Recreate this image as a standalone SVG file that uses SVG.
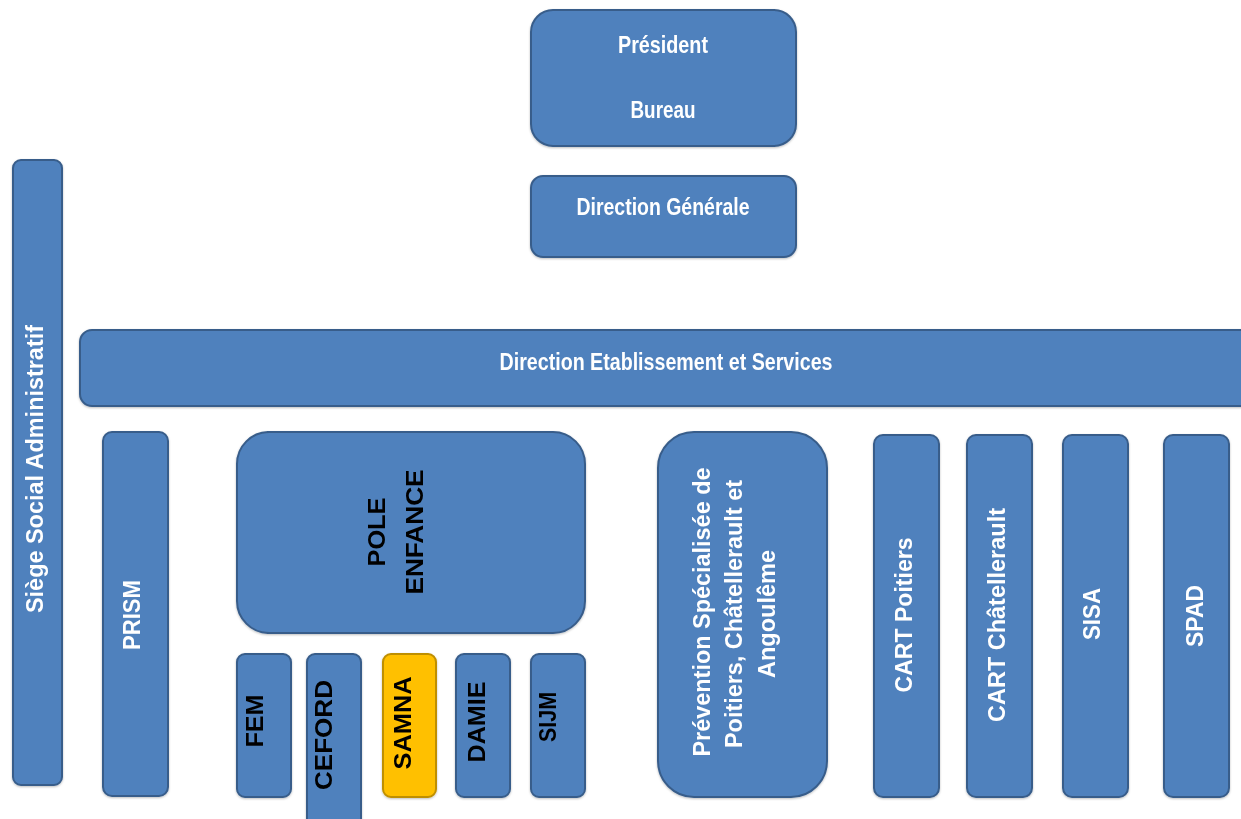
<svg xmlns="http://www.w3.org/2000/svg" width="1241" height="819" viewBox="0 0 1241 819">
<defs>
<style>
.b{fill:#4f81bd;stroke:#385d8a;stroke-width:2}
.y{fill:#ffc000;stroke:#bf8f00;stroke-width:2}
.n{font-family:"Liberation Sans Narrow","Liberation Sans",Arial,sans-serif;font-weight:bold;font-size:24px;fill:#ffffff;text-anchor:middle}
.w{font-family:"Liberation Sans",Arial,sans-serif;font-weight:bold;font-size:23px;fill:#ffffff;text-anchor:middle}
.k{font-family:"Liberation Sans",Arial,sans-serif;font-weight:bold;font-size:24px;fill:#000000;text-anchor:middle}
</style>
<filter id="sh" x="-10%" y="-10%" width="120%" height="120%">
<feDropShadow dx="0" dy="1" stdDeviation="1.2" flood-color="#000" flood-opacity="0.25"/>
</filter>
</defs>
<rect width="1241" height="819" fill="#ffffff"/>
<g id="connectors"></g>
<g filter="url(#sh)">
<g id="president">
<rect class="b" x="531" y="10" width="265" height="136" rx="22"/>
<text class="n" x="663" y="53" textLength="90" lengthAdjust="spacingAndGlyphs">Président</text>
<text class="n" x="663" y="118" textLength="65" lengthAdjust="spacingAndGlyphs">Bureau</text>
</g>
<g id="direction-generale">
<rect class="b" x="531" y="176" width="265" height="81" rx="12"/>
<text class="n" x="663" y="215" textLength="173" lengthAdjust="spacingAndGlyphs">Direction Générale</text>
</g>
<g id="siege">
<rect class="b" x="13" y="160" width="49" height="625" rx="8"/>
<text class="w" transform="translate(43,469) rotate(-90)" textLength="288" lengthAdjust="spacingAndGlyphs">Siège Social Administratif</text>
</g>
<g id="direction-etablissement">
<rect class="b" x="80" y="330" width="1180" height="76" rx="12"/>
<text class="n" x="666" y="370" textLength="333" lengthAdjust="spacingAndGlyphs">Direction Etablissement et Services</text>
</g>
<g id="prism">
<rect class="b" x="103" y="432" width="65" height="364" rx="9"/>
<text class="w" transform="translate(140,615) rotate(-90)" textLength="70" lengthAdjust="spacingAndGlyphs">PRISM</text>
</g>
<g id="pole-enfance">
<rect class="b" x="237" y="432" width="348" height="201" rx="32"/>
<text class="k" transform="translate(385,532) rotate(-90)" textLength="69" lengthAdjust="spacingAndGlyphs">POLE</text>
<text class="k" transform="translate(423,532) rotate(-90)" textLength="125" lengthAdjust="spacingAndGlyphs">ENFANCE</text>
</g>
<g id="fem">
<rect class="b" x="237" y="654" width="54" height="143" rx="8"/>
<text class="k" transform="translate(263,721) rotate(-90)" textLength="53" lengthAdjust="spacingAndGlyphs">FEM</text>
</g>
<g id="ceford">
<rect class="b" x="307" y="654" width="54" height="180" rx="8"/>
<text class="k" transform="translate(332,735) rotate(-90)" textLength="110" lengthAdjust="spacingAndGlyphs">CEFORD</text>
</g>
<g id="samna">
<rect class="y" x="383" y="654" width="53" height="143" rx="8"/>
<text class="k" transform="translate(411,723) rotate(-90)" textLength="93" lengthAdjust="spacingAndGlyphs">SAMNA</text>
</g>
<g id="damie">
<rect class="b" x="456" y="654" width="54" height="143" rx="8"/>
<text class="k" transform="translate(485,722) rotate(-90)" textLength="81" lengthAdjust="spacingAndGlyphs">DAMIE</text>
</g>
<g id="sijm">
<rect class="b" x="531" y="654" width="54" height="143" rx="8"/>
<text class="k" transform="translate(556,717) rotate(-90)" textLength="50" lengthAdjust="spacingAndGlyphs">SIJM</text>
</g>
<g id="prevention">
<rect class="b" x="658" y="432" width="169" height="365" rx="36"/>
<text class="w" transform="translate(710,612) rotate(-90)" textLength="289" lengthAdjust="spacingAndGlyphs">Prévention Spécialisée de</text>
<text class="w" transform="translate(742,614) rotate(-90)" textLength="268" lengthAdjust="spacingAndGlyphs">Poitiers, Châtellerault et</text>
<text class="w" transform="translate(775,614) rotate(-90)" textLength="128" lengthAdjust="spacingAndGlyphs">Angoulême</text>
</g>
<g id="cart-poitiers">
<rect class="b" x="874" y="435" width="65" height="362" rx="9"/>
<text class="w" transform="translate(912,615) rotate(-90)" textLength="155" lengthAdjust="spacingAndGlyphs">CART Poitiers</text>
</g>
<g id="cart-chatellerault">
<rect class="b" x="967" y="435" width="65" height="362" rx="9"/>
<text class="w" transform="translate(1005,615) rotate(-90)" textLength="214" lengthAdjust="spacingAndGlyphs">CART Châtellerault</text>
</g>
<g id="sisa">
<rect class="b" x="1063" y="435" width="65" height="362" rx="9"/>
<text class="w" transform="translate(1100,614) rotate(-90)" textLength="52" lengthAdjust="spacingAndGlyphs">SISA</text>
</g>
<g id="spad">
<rect class="b" x="1164" y="435" width="65" height="362" rx="9"/>
<text class="w" transform="translate(1203,616) rotate(-90)" textLength="62" lengthAdjust="spacingAndGlyphs">SPAD</text>
</g>
</g>
</svg>
